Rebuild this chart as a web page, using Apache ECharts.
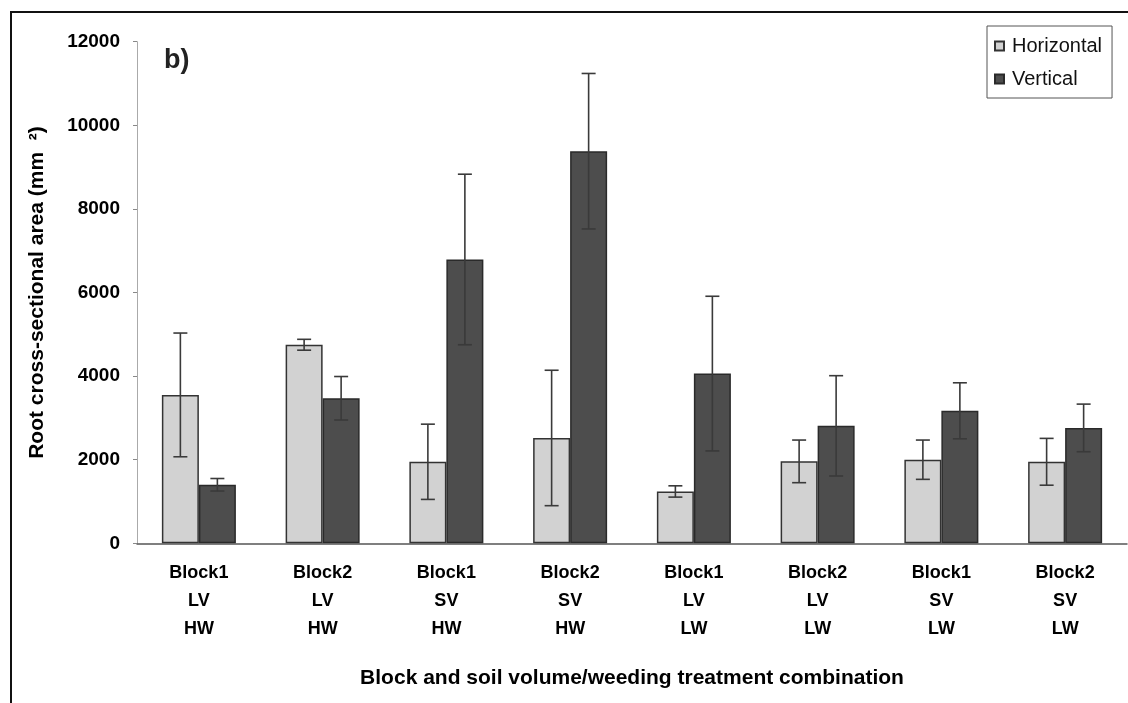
<!DOCTYPE html>
<html>
<head>
<meta charset="utf-8">
<title>Root cross-sectional area</title>
<script src="https://cdn.jsdelivr.net/npm/echarts@6/dist/echarts.min.js"></script>
<style>
  html, body { margin: 0; padding: 0; background: #ffffff; }
  #chart { width: 1128px; height: 703px; }
</style>
</head>
<body>
<div id="chart"></div>
<script>
// Treatment combinations (block / soil volume / weeding)
const categories = [
  'Block1\nLV\nHW', 'Block2\nLV\nHW', 'Block1\nSV\nHW', 'Block2\nSV\nHW',
  'Block1\nLV\nLW', 'Block2\nLV\nLW', 'Block1\nSV\nLW', 'Block2\nSV\nLW'
];

// Mean root cross-sectional area (mm²) and standard errors
const horizontal = [3550, 4750, 1950, 2520, 1240, 1960, 2000, 1950];
const horizontalErr = [1480, 130, 900, 1620, 135, 510, 470, 560];
const vertical = [1400, 3470, 6790, 9380, 4060, 2810, 3170, 2760];
const verticalErr = [150, 520, 2040, 1860, 1850, 1200, 670, 570];

const yTicks = [0, 2000, 4000, 6000, 8000, 10000, 12000];

const FONT = 'Arial, "Liberation Sans", Helvetica, sans-serif';
const BAR_W = 37;

function errorSeries(name, means, errs, side) {
  return {
    type: 'custom',
    name: name + ' error',
    z: 10,
    silent: true,
    data: means.map((m, i) => [i, m - errs[i], m + errs[i]]),
    renderItem: function (params, api) {
      const lo = api.coord([api.value(0), api.value(1)]);
      const hi = api.coord([api.value(0), api.value(2)]);
      const x = lo[0] + side * BAR_W / 2;
      const cap = 7;
      const style = { stroke: '#3a3a3a', lineWidth: 1.6 };
      return {
        type: 'group',
        children: [
          { type: 'line', shape: { x1: x, y1: hi[1], x2: x, y2: lo[1] }, style: style },
          { type: 'line', shape: { x1: x - cap, y1: hi[1], x2: x + cap, y2: hi[1] }, style: style },
          { type: 'line', shape: { x1: x - cap, y1: lo[1], x2: x + cap, y2: lo[1] }, style: style }
        ]
      };
    }
  };
}

const chart = echarts.init(document.getElementById('chart'));
chart.setOption({
  animation: false,
  backgroundColor: '#ffffff',
  textStyle: { fontFamily: FONT },
  grid: { left: 137, right: 1, top: 41.7, bottom: 159.7, containLabel: false },
  legend: {
    orient: 'vertical',
    left: 987,
    top: 26,
    width: 126,
    padding: [10, 10, 9, 7],
    itemGap: 13,
    itemWidth: 9,
    itemHeight: 9,
    icon: 'rect',
    borderColor: '#555',
    borderWidth: 1,
    data: ['Horizontal', 'Vertical'],
    textStyle: { fontFamily: FONT, fontSize: 20, color: '#111', padding: [0, 0, 0, 3] }
  },
  xAxis: {
    type: 'category',
    data: categories,
    name: 'Block and soil volume/weeding treatment combination',
    nameLocation: 'middle',
    nameGap: 124,
    nameTextStyle: { fontFamily: FONT, fontSize: 21, fontWeight: 'bold', color: '#000' },
    axisLine: { lineStyle: { color: '#555', width: 1.5 } },
    axisTick: { length: 5, lineStyle: { color: '#666' } },
    axisLabel: {
      interval: 0,
      margin: 16,
      lineHeight: 28,
      fontFamily: FONT,
      fontSize: 18,
      fontWeight: 'bold',
      color: '#000'
    }
  },
  yAxis: {
    type: 'value',
    min: yTicks[0],
    max: yTicks[yTicks.length - 1],
    interval: yTicks[1] - yTicks[0],
    name: 'Root cross-sectional area (mm  \u00b2)',
    nameLocation: 'middle',
    nameGap: 89,
    nameTextStyle: { fontFamily: FONT, fontSize: 21, fontWeight: 'bold', color: '#000' },
    axisLine: { show: true, lineStyle: { color: '#aaa', width: 1 } },
    axisTick: { show: true, length: 4, lineStyle: { color: '#888' } },
    splitLine: { show: false },
    axisLabel: {
      margin: 17,
      fontFamily: FONT,
      fontSize: 19,
      fontWeight: 'bold',
      color: '#000',
      formatter: function (v) { return String(v); }
    }
  },
  series: [
    {
      name: 'Horizontal',
      type: 'bar',
      data: horizontal,
      barWidth: BAR_W,
      barGap: '0%',
      itemStyle: { color: '#d2d2d2', borderColor: '#333', borderWidth: 1.5 }
    },
    {
      name: 'Vertical',
      type: 'bar',
      data: vertical,
      barWidth: BAR_W,
      barGap: '0%',
      itemStyle: { color: '#4d4d4d', borderColor: '#2a2a2a', borderWidth: 1.5 }
    },
    errorSeries('Horizontal', horizontal, horizontalErr, -1),
    errorSeries('Vertical', vertical, verticalErr, 1)
  ],
  graphic: [
    {
      type: 'polyline',
      silent: true,
      shape: { points: [[11, 703], [11, 12], [1128, 12]] },
      style: { stroke: '#111', lineWidth: 2, fill: null }
    },
    {
      type: 'text',
      left: 164,
      top: 47,
      style: { text: 'b)', font: 'bold 27px ' + FONT, fill: '#222' }
    }
  ]
});
</script>
</body>
</html>
